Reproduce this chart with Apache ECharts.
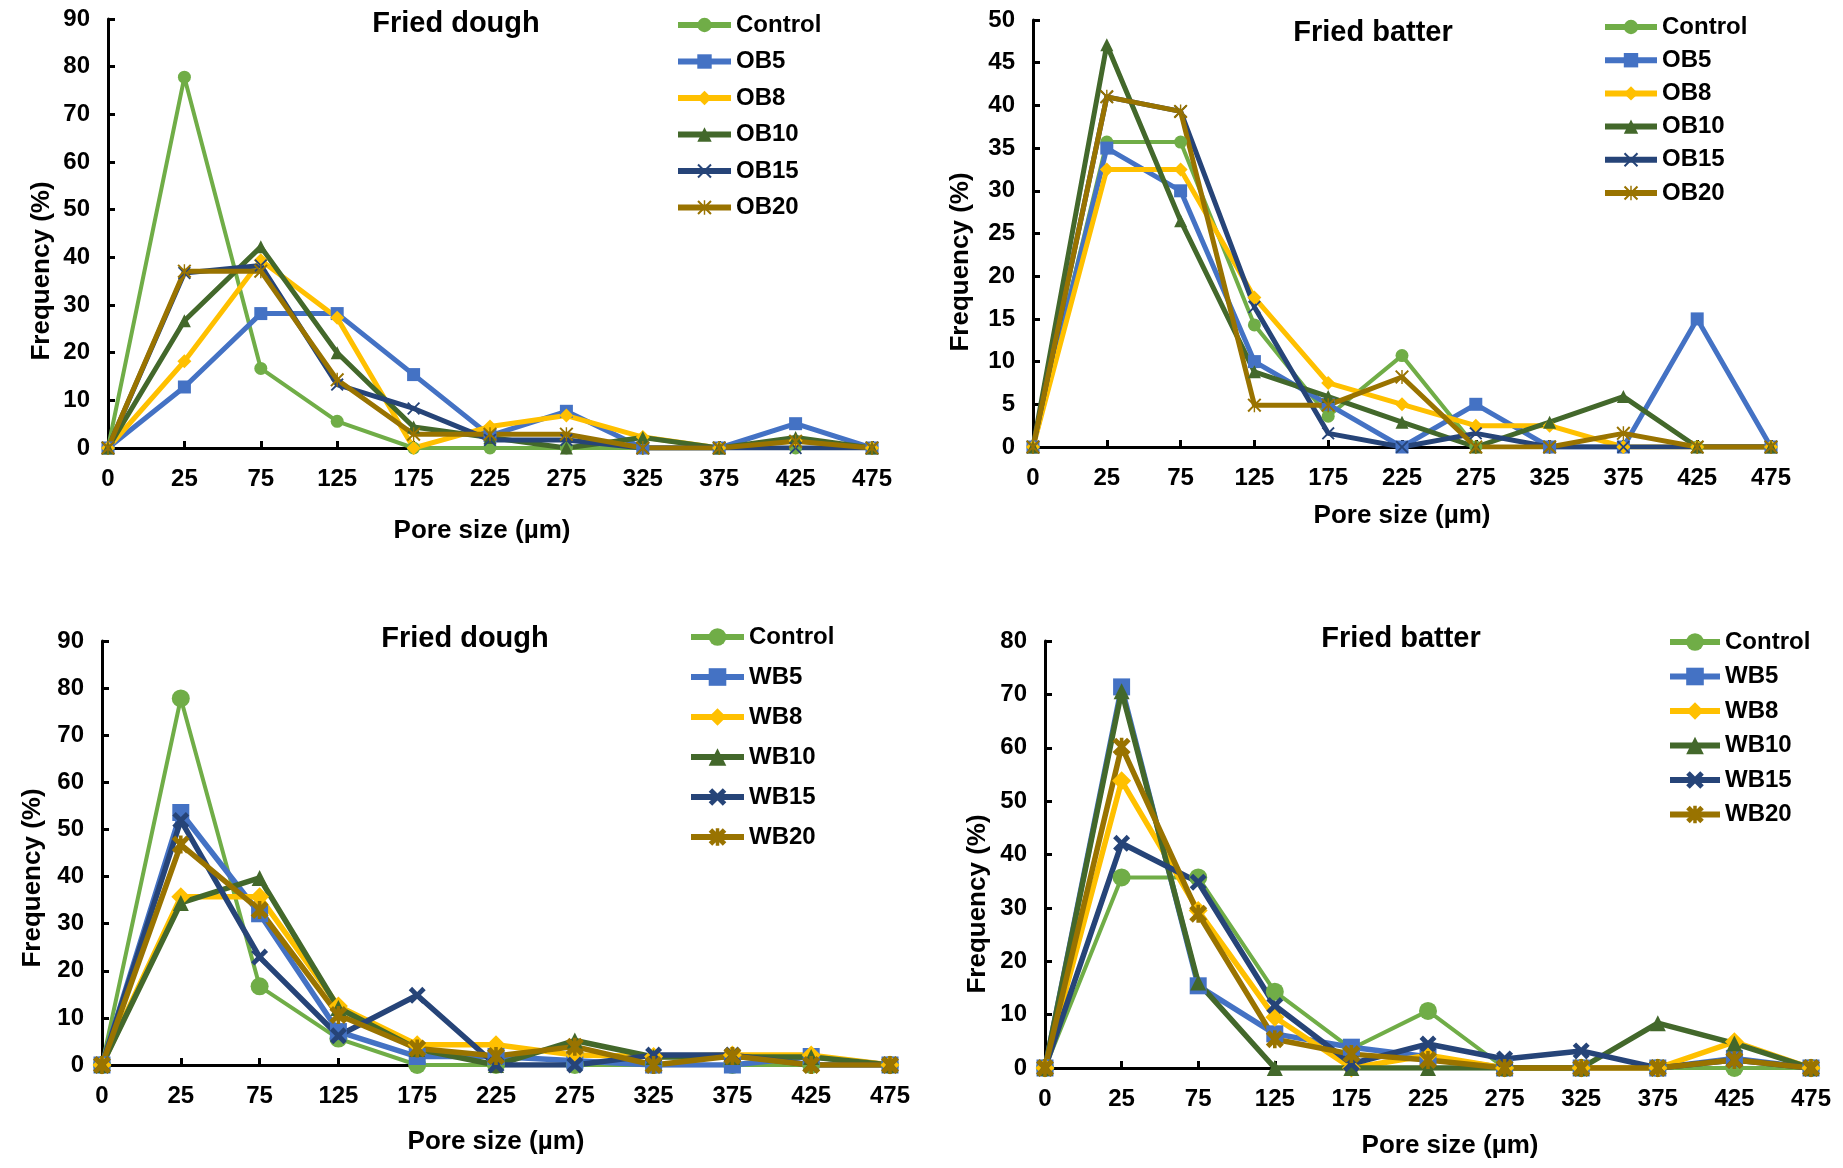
<!DOCTYPE html>
<html>
<head>
<meta charset="utf-8">
<script src="https://cdn.jsdelivr.net/npm/echarts@6/dist/echarts.min.js"></script>
<style>
body{margin:0;background:#fff;}
#main{width:1843px;height:1168px;}
</style>
</head>
<body>
<div id="main"></div>
<script>
// pore size classes (µm)
var cats = ['0','25','75','125','175','225','275','325','375','425','475'];

var obNames = ['Control','OB5','OB8','OB10','OB15','OB20'];
var wbNames = ['Control','WB5','WB8','WB10','WB15','WB20'];

// Fried dough, OB
var obDoughControl = [0, 77.8, 16.7, 5.6, 0, 0, 0, 0, 0, 0, 0];
var obDough5  = [0, 12.8, 28.2, 28.2, 15.4, 2.6, 7.7, 0, 0, 5.1, 0];
var obDough8  = [0, 18.2, 39.4, 27.3, 0, 4.5, 6.8, 2.3, 0, 1.5, 0];
var obDough10 = [0, 26.7, 42.2, 20, 4.4, 2.2, 0, 2.2, 0, 2.2, 0];
var obDough15 = [0, 36.7, 38.3, 13.3, 8.3, 1.7, 1.7, 0, 0, 0, 0];
var obDough20 = [0, 37.1, 37.1, 14.3, 2.9, 2.9, 2.9, 0, 0, 1.4, 0];

// Fried batter, OB
var obBatterControl = [0, 35.7, 35.7, 14.3, 3.6, 10.7, 0, 0, 0, 0, 0];
var obBatter5  = [0, 35, 30, 10, 5, 0, 5, 0, 0, 15, 0];
var obBatter8  = [0, 32.5, 32.5, 17.5, 7.5, 5, 2.5, 2.5, 0, 0, 0];
var obBatter10 = [0, 47.1, 26.5, 8.8, 5.9, 2.9, 0, 2.9, 5.9, 0, 0];
var obBatter15 = [0, 41, 39.3, 16.4, 1.6, 0, 1.6, 0, 0, 0, 0];
var obBatter20 = [0, 41, 39.3, 4.9, 4.9, 8.2, 0, 0, 1.6, 0, 0];

// Fried dough, WB
var wbDoughControl = [0, 77.8, 16.7, 5.6, 0, 0, 0, 0, 0, 0, 0];
var wbDough5  = [0, 53.6, 32.1, 7.1, 1.8, 1.8, 0.9, 0, 0, 1.8, 0];
var wbDough8  = [0, 35.7, 35.7, 12.5, 4.3, 4.3, 2.1, 1.8, 2.1, 2.1, 0];
var wbDough10 = [0, 34.4, 39.7, 12.1, 3.4, 0, 5.2, 1.7, 1.7, 1.7, 0];
var wbDough15 = [0, 51.9, 22.9, 6.2, 14.8, 0, 0, 2.1, 2.1, 0, 0];
var wbDough20 = [0, 46.8, 32.9, 10.6, 3.5, 1.9, 3.9, 0, 1.9, 0, 0];

// Fried batter, WB
var wbBatterControl = [0, 35.7, 35.7, 14.3, 3.6, 10.7, 0, 0, 0, 0, 0];
var wbBatter5  = [0, 71.4, 15.4, 6.4, 3.9, 2.1, 0, 0, 0, 1.8, 0];
var wbBatter8  = [0, 53.8, 29.5, 9.5, 0, 2.4, 0, 0, 0, 4.9, 0];
var wbBatter10 = [0, 70.6, 16, 0, 0, 0, 0, 0, 8.4, 4.6, 0];
var wbBatter15 = [0, 42.1, 34.8, 11.7, 0.8, 4.5, 1.7, 3.2, 0, 1.5, 0];
var wbBatter20 = [0, 60.2, 28.9, 5.4, 2.6, 1.5, 0, 0, 0, 1.5, 0];

var colors = ['#70AD47','#4472C4','#FFC000','#43682B','#264478','#997300'];
var FONT = '"Liberation Sans", Arial, sans-serif';

// marker shapes
var thinX = 'path://M0,1 L1,0 L5,4 L9,0 L10,1 L6,5 L10,9 L9,10 L5,6 L1,10 L0,9 L4,5 Z';
var thinStar = 'path://M0,1 L1,0 L5,4 L9,0 L10,1 L6,5 L10,9 L9,10 L5,6 L1,10 L0,9 L4,5 Z M4.5,0 L5.5,0 L5.5,10 L4.5,10 Z';
var thickX = 'path://M0,2 L2,0 L5,3 L8,0 L10,2 L7,5 L10,8 L8,10 L5,7 L2,10 L0,8 L3,5 Z';
var thickStar = 'path://M0,2 L2,0 L5,3 L8,0 L10,2 L7,5 L10,8 L8,10 L5,7 L2,10 L0,8 L3,5 Z M4,0 L6,0 L6,10 L4,10 Z';

var thinSymbols = ['circle','rect','diamond','triangle',thinX,thinStar];
var thinSizes = [13,13,14,13,13,14];
var thickSymbols = ['circle','rect','diamond','triangle',thickX,thickStar];
var thickSizes = [18,17,19,16,17,18];

var panels = [
	{names: obNames, data: [obDoughControl,obDough5,obDough8,obDough10,obDough15,obDough20], thick: false,
	 grid: {left:108, top:19, width:764, height:429}, max: 90, interval: 10,
	 title: 'Fried dough', tx: 456, ty: 24, xt: [482, 531], yt: [42, 271],
	 legend: {left: 670, top: 8, itemWidth: 53, itemGap: 12.5}},
	{names: obNames, data: [obBatterControl,obBatter5,obBatter8,obBatter10,obBatter15,obBatter20], thick: false,
	 grid: {left:1033, top:20, width:738, height:427}, max: 50, interval: 5,
	 title: 'Fried batter', tx: 1373, ty: 33, xt: [1402, 516], yt: [961, 262],
	 legend: {left: 1597, top: 10, itemWidth: 52, itemGap: 9.2}},
	{names: wbNames, data: [wbDoughControl,wbDough5,wbDough8,wbDough10,wbDough15,wbDough20], thick: true,
	 grid: {left:102, top:641, width:788, height:424}, max: 90, interval: 10,
	 title: 'Fried dough', tx: 465, ty: 639, xt: [496, 1142], yt: [33, 878],
	 legend: {left: 683, top: 620, itemWidth: 53, itemGap: 16}},
	{names: wbNames, data: [wbBatterControl,wbBatter5,wbBatter8,wbBatter10,wbBatter15,wbBatter20], thick: true,
	 grid: {left:1045, top:641, width:766, height:427}, max: 80, interval: 10,
	 title: 'Fried batter', tx: 1401, ty: 639, xt: [1450, 1146], yt: [978, 904],
	 legend: {left: 1662, top: 625, itemWidth: 50, itemGap: 10.5}}
];

var grids = [], xAxes = [], yAxes = [], series = [], legends = [], texts = [];

panels.forEach(function(p, i){
	grids.push(p.grid);
	xAxes.push({
		type: 'category', gridIndex: i, data: cats, boundaryGap: false,
		axisLine: {lineStyle: {color: '#000', width: 3}},
		axisTick: {inside: true, length: 7, interval: 0, lineStyle: {color: '#000', width: 3}},
		axisLabel: {interval: 0, color: '#000', fontSize: 24, fontWeight: 'bold', fontFamily: FONT, margin: 19},
		splitLine: {show: false}
	});
	yAxes.push({
		type: 'value', gridIndex: i, min: 0, max: p.max, interval: p.interval,
		axisLine: {show: true, lineStyle: {color: '#000', width: 3}},
		axisTick: {show: true, inside: true, length: 7, lineStyle: {color: '#000', width: 3}},
		axisLabel: {color: '#000', fontSize: 24, fontWeight: 'bold', fontFamily: FONT, margin: 18},
		splitLine: {show: false}
	});
	p.names.forEach(function(name, k){
		series.push({
			name: name, type: 'line', xAxisIndex: i, yAxisIndex: i,
			data: p.data[k],
			symbol: p.thick ? thickSymbols[k] : thinSymbols[k],
			symbolSize: p.thick ? thickSizes[k] : thinSizes[k],
			showAllSymbol: true,
			color: colors[k],
			lineStyle: {width: k == 0 ? 4 : (p.thick ? 5.5 : 5), color: colors[k]},
			itemStyle: {color: colors[k]},
			animation: false
		});
	});
	legends.push({
		orient: 'vertical', left: p.legend.left, top: p.legend.top,
		itemWidth: p.legend.itemWidth, itemHeight: p.thick ? 22 : 18, itemGap: p.legend.itemGap,
		data: p.names, selectedMode: false,
		lineStyle: {width: 6},
		textStyle: {color: '#000', fontSize: 24, fontWeight: 'bold', fontFamily: FONT}
	});
	texts.push({type: 'text', x: p.tx, y: p.ty,
		style: {text: p.title, font: 'bold 29px ' + FONT, fill: '#000', textAlign: 'center', textVerticalAlign: 'middle', align: 'center', verticalAlign: 'middle'}});
	texts.push({type: 'text', x: p.xt[0], y: p.xt[1],
		style: {text: 'Pore size (µm)', font: 'bold 26px ' + FONT, fill: '#000', textAlign: 'center', textVerticalAlign: 'middle', align: 'center', verticalAlign: 'middle'}});
	texts.push({type: 'text', x: p.yt[0], y: p.yt[1], rotation: Math.PI / 2,
		style: {text: 'Frequency (%)', font: 'bold 26px ' + FONT, fill: '#000', textAlign: 'center', textVerticalAlign: 'middle', align: 'center', verticalAlign: 'middle'}});
});

var chart = echarts.init(document.getElementById('main'));
chart.setOption({
	backgroundColor: '#fff',
	animation: false,
	grid: grids,
	xAxis: xAxes,
	yAxis: yAxes,
	legend: legends,
	series: series,
	graphic: texts
});
</script>
</body>
</html>
